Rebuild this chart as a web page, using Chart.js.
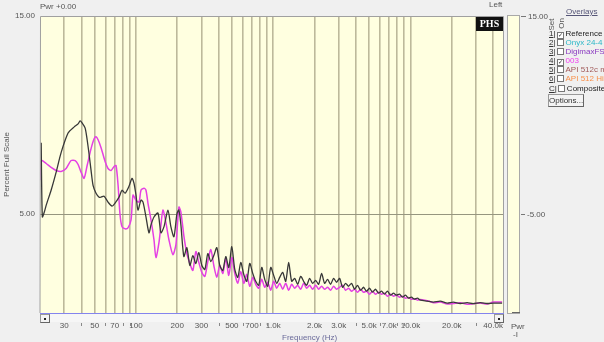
<!DOCTYPE html>
<html>
<head>
<meta charset="utf-8">
<script src="https://cdn.jsdelivr.net/npm/chart.js@4.4.1/dist/chart.umd.min.js"></script>
<style>
  body { margin: 0; background: #f0f0f0; font-family: "Liberation Sans", Arial, sans-serif; }
  #wrap { position: relative; width: 604px; height: 342px; overflow: hidden; }
  canvas { position: absolute; left: 0; top: 0; }
  .t { position: absolute; font-size: 8px; line-height: 9px; color: #555; white-space: nowrap; }
  .row { position: absolute; left: 549px; font-size: 8px; line-height: 9px; white-space: nowrap; }
  .row u { color: #333; }
  .box { display: inline-block; width: 5px; height: 5px; border: 1px solid #777; background: #fff; margin: 0 2px 0 1px; vertical-align: -1px; font-size: 6px; line-height: 5px; text-align: center; }
  .btn { position: absolute; border: 1px solid #999; border-right-color: #666; border-bottom-color: #666; background: #f4f4f4; }
</style>
</head>
<body>
<div id="wrap">
  <canvas id="chart" width="604" height="342"></canvas>

  <div class="t" style="left:40px;top:2px;">Pwr +0.00</div>
  <div class="t" style="left:489px;top:0px;">Left</div>
  <div style="position:absolute;left:476px;top:17px;width:27px;height:14px;background:#111;color:#fff;font:bold 10px 'Liberation Serif',serif;line-height:14px;text-align:center;">PHS</div>

  <!-- level meter strip on the right -->
  <div style="position:absolute;left:507px;top:15px;width:11px;height:297px;background:#ffffe0;border:1px solid #a8a8a8;"></div>
  <div style="position:absolute;left:521px;top:16px;width:5px;height:1px;background:#777;"></div>
  <div class="t" style="left:528px;top:12px;">15.00</div>
  <div style="position:absolute;left:521px;top:214px;width:4px;height:1px;background:#777;"></div>
  <div class="t" style="left:527px;top:210px;">-5.00</div>
  <div style="position:absolute;left:512px;top:312px;width:8px;height:1px;background:#666;"></div>
  <div class="t" style="left:511px;top:322px;">Pwr</div>
  <div class="t" style="left:513px;top:330px;">-I</div>

  <!-- scroll bar under the plot -->
  <div style="position:absolute;left:40px;top:314px;width:464px;height:8px;background:#f6f6f6;"></div>
  <div class="btn" style="left:40px;top:314px;width:8px;height:7px;"><div style="position:absolute;left:3px;top:3px;width:2px;height:2px;background:#222;"></div></div>
  <div class="btn" style="left:494px;top:314px;width:8px;height:7px;"><div style="position:absolute;left:3px;top:3px;width:2px;height:2px;background:#222;"></div></div>

  <div class="t" style="left:282px;top:333px;color:#6a6a9a;">Frequency (Hz)</div>

  <!-- overlays panel -->
  <div class="t" style="left:566px;top:7px;color:#557;text-decoration:underline;">Overlays</div>
  <div class="t" style="left:545px;top:20px;transform:rotate(-90deg);">Set</div>
  <div class="t" style="left:556px;top:19px;transform:rotate(-90deg);">On</div>
  <div class="row" style="top:29px;color:#222;"><u>1</u>|<span class="box">&#10003;</span>Reference</div>
  <div class="row" style="top:38px;color:#2cb8c8;"><u>2</u><span style="color:#333">|</span><span class="box"></span>Onyx 24-4</div>
  <div class="row" style="top:47px;color:#8a3ac0;"><u>3</u><span style="color:#333">|</span><span class="box"></span>DigimaxFS</div>
  <div class="row" style="top:56px;color:#f03cf0;"><u>4</u><span style="color:#333">|</span><span class="box" style="color:#222">&#10003;</span>003</div>
  <div class="row" style="top:65px;color:#a05a5a;"><u>5</u><span style="color:#333">|</span><span class="box"></span>API 512c m</div>
  <div class="row" style="top:74px;color:#f8904c;"><u>6</u><span style="color:#333">|</span><span class="box"></span>API 512 Hi</div>
  <div class="row" style="top:84px;color:#222;"><u>C</u>|<span class="box"></span>Composite</div>
  <div class="btn" style="left:548px;top:94px;width:34px;height:11px;font-size:8px;line-height:11px;color:#333;text-align:center;">Options...</div>
</div>

<script>
// reference curve (black): frequency in Hz, percent full scale
const refFreq = [20.4, 20.8, 21.5, 22.2, 24.1, 26.2, 28.5, 32.1, 35.5, 37.9, 39.2, 40.5, 42.6, 44.1, 45.6, 47.1, 48.7, 51.2, 53.9, 55.7,
  58.6, 62.6, 67.0, 70.4, 75.3, 79.2, 83.3, 89.0, 93.6, 96.8, 100.1, 103.5, 108.8, 112.6, 118.3, 124.4, 128.7, 135.3, 144.7, 152.1,
  159.9, 171.0, 179.8, 189.1, 198.8, 205.5,
  212.5, 223.4, 234.9, 247.0, 259.8, 273.2, 287.2, 302.0, 317.6, 333.9, 351.1, 369.2, 388.2, 408.2, 429.3, 451.4, 474.6, 499.1, 524.8, 551.8,
  580.3, 610.2, 641.6, 674.6, 709.4, 745.9, 784.3, 824.7, 867.2, 911.9, 958.8, 1008, 1060, 1115, 1172, 1233, 1296, 1363, 1433, 1507,
  1585, 1666, 1752, 1842, 1937, 2037, 2142, 2252, 2368, 2490, 2618, 2753, 2895, 3044, 3201, 3366, 3539, 3721, 3913, 4114,
  4326, 4549, 4783, 5030, 5289, 5561, 5848, 6149, 6466, 6799, 7149, 7517, 7904, 8311, 8739, 9189, 9663, 10160, 10680, 11240, 11810,
  13260, 14660, 16480, 18530, 20490, 23030, 25890, 28630, 32190, 36190, 40020, 46510];
const refPct = [8.6, 4.85, 5.1, 5.45, 6.2, 7.1, 8.1, 9.1, 9.4, 9.55, 9.7, 9.6, 9.35, 8.75, 8.0, 7.2, 6.45, 6.05, 5.85, 5.85,
  5.9, 5.6, 5.4, 5.55, 5.85, 6.2, 6.05, 6.4, 6.8, 6.55, 5.95, 5.2, 5.7, 5.6, 4.85, 4.05, 4.45, 4.85, 5.05, 4.05,
  4.35, 5.2, 4.35, 3.85, 5.0, 5.2,
  4.45, 2.85, 3.3, 2.4, 2.9, 2.5, 3.05, 2.4, 2.2, 3.0, 2.6, 2.9, 3.3, 2.4, 2.15, 2.85, 2.3, 3.35, 2.2, 1.8,
  2.55, 1.95, 1.6, 2.5, 2.0, 1.6, 1.4, 2.3, 1.7, 1.35, 2.3, 1.9, 1.5, 1.8, 2.05, 1.6, 2.55, 1.6, 1.75, 1.45,
  1.85, 1.6, 1.4, 1.75, 1.5, 1.65, 1.45, 2.0, 1.5, 1.7, 1.45, 1.75, 1.55, 1.75, 1.3, 1.5, 1.35, 1.5, 1.2, 1.4,
  1.15, 1.3, 1.1, 1.25, 1.05, 1.2, 1.0, 1.1, 0.95, 1.1, 0.9, 1.0, 0.9, 0.95, 0.8, 0.9, 0.75, 0.8, 0.7, 0.75, 0.65,
  0.6, 0.55, 0.6, 0.5, 0.55, 0.48, 0.52, 0.47, 0.52, 0.48, 0.5, 0.5];

// overlay 4 "003" (magenta)
const s003Freq = [20.4, 20.5, 22.2, 24.1, 26.2, 28.5, 31.0, 33.7, 36.1, 37.9, 39.9, 41.9, 44.1, 47.1, 49.6, 51.2, 53.0, 55.7, 59.6, 62.6,
  65.9, 69.3, 71.6, 74.1, 76.6, 79.2, 83.3, 87.5, 92.1, 95.2, 100.1, 105.3, 108.8, 114.5, 118.3, 122.3, 128.7, 135.3, 139.9, 147.1,
  152.1, 157.3, 165.4, 173.9, 185.9, 195.5, 205.5,
  212.5, 223.4, 234.9, 247.0, 259.8, 273.2, 287.2, 302.0, 317.6, 333.9, 351.1, 369.2, 388.2, 408.2, 429.3, 451.4, 474.6, 499.1, 524.8, 551.8,
  580.3, 610.2, 641.6, 674.6, 709.4, 745.9, 784.3, 824.7, 867.2, 911.9, 958.8, 1008, 1060, 1115, 1172, 1233, 1296, 1363, 1433, 1507,
  1585, 1666, 1752, 1842, 1937, 2037, 2142, 2252, 2368, 2490, 2618, 2753, 2895, 3044, 3201, 3366, 3539, 3721, 3913, 4114,
  4326, 4549, 4783, 5030, 5289, 5561, 5848, 6149, 6466, 6799, 7149, 7517, 7904, 8311, 8739, 9189, 9663, 10160, 10680, 11240, 11810,
  13260, 14660, 16480, 18530, 20490, 23030, 25890, 28630, 32190, 36190, 40020, 46510];
const s003Pct = [6.7, 7.7, 7.55, 7.35, 7.2, 7.15, 7.3, 7.7, 7.7, 7.5, 7.1, 6.8, 7.45, 8.3, 8.8, 8.9, 8.75, 8.35, 7.65, 7.3,
  7.2, 7.4, 7.45, 6.45, 4.95, 4.35, 4.25, 4.3, 4.7, 5.95, 5.7, 5.6, 6.2, 6.3, 6.2, 5.55, 4.7, 3.7, 2.8, 3.55,
  4.45, 5.2, 4.55, 3.7, 2.95, 3.45, 5.35,
  5.1, 3.9, 3.0, 2.5, 2.15, 3.1, 2.55, 2.05, 1.85, 2.6, 3.2, 2.4, 1.8, 2.4, 2.0, 2.75, 1.9, 2.8, 2.0, 1.5,
  2.1, 1.5, 1.95, 1.35, 1.8, 1.45, 1.25, 1.7, 1.3, 1.55, 1.15, 1.6, 1.25, 1.5, 1.2, 1.5, 1.15, 1.45, 1.25, 1.4,
  1.2, 1.5, 1.25, 1.4, 1.2, 1.4, 1.2, 1.35, 1.2, 1.3, 1.15, 1.35, 1.2, 1.3, 1.4, 1.15, 1.25, 1.1, 1.2, 1.05,
  1.2, 1.05, 1.1, 0.95, 1.1, 0.95, 1.05, 0.95, 1.0, 0.85, 0.95, 0.85, 0.9, 0.8, 0.85, 0.75, 0.78, 0.7, 0.72, 0.65, 0.68,
  0.62, 0.52, 0.55, 0.45, 0.48, 0.52, 0.44, 0.47, 0.5, 0.45, 0.55, 0.55];

// frequency grid lines and the ones that carry a label
const gridFreqs = [30, 40, 50, 60, 70, 80, 90, 100, 200, 300, 400, 500, 600, 700, 800, 900, 1000,
  2000, 3000, 4000, 5000, 6000, 7000, 8000, 9000, 10000, 20000, 30000, 40000];
const freqLabels = { 30: '30', 50: '50', 70: '70', 100: '100', 200: '200', 300: '300', 500: '500', 700: '700',
  1000: '1.0k', 2000: '2.0k', 3000: '3.0k', 5000: '5.0k', 7000: '7.0k', 10000: '10.0k', 20000: '20.0k', 40000: '40.0k' };
const pctTicks = [5, 15];

function toPoints(xs, ys) {
  return xs.map((f, i) => ({ x: f, y: ys[i] }));
}

const plotFrame = {
  id: 'plotFrame',
  beforeDraw(chart) {
    const { ctx, chartArea: a } = chart;
    ctx.save();
    ctx.fillStyle = '#ffffe0';
    ctx.fillRect(a.left, a.top, a.right - a.left, a.bottom - a.top);
    ctx.restore();
  },
  afterDraw(chart) {
    const { ctx, chartArea: a } = chart;
    const xs = chart.scales.x;
    ctx.save();
    ctx.strokeStyle = '#a0a0a0';
    ctx.lineWidth = 1;
    ctx.beginPath();
    ctx.moveTo(a.left, a.bottom);
    ctx.lineTo(a.left + 0.5, a.top + 0.5);
    ctx.lineTo(a.right - 0.5, a.top + 0.5);
    ctx.lineTo(a.right - 0.5, a.bottom);
    ctx.stroke();
    // blue base line
    ctx.strokeStyle = '#8484ee';
    ctx.beginPath();
    ctx.moveTo(a.left, a.bottom + 0.5);
    ctx.lineTo(a.right, a.bottom + 0.5);
    ctx.stroke();
    // little marks for unlabeled grid frequencies
    ctx.strokeStyle = '#888';
    gridFreqs.forEach(f => {
      if (freqLabels[f]) return;
      const px = Math.round(xs.getPixelForValue(f)) + 0.5;
      ctx.beginPath();
      ctx.moveTo(px, a.bottom + 10);
      ctx.lineTo(px, a.bottom + 13);
      ctx.stroke();
    });
    ctx.restore();
  }
};

new Chart(document.getElementById('chart'), {
  type: 'line',
  data: {
    datasets: [{
      label: 'Reference',
      data: toPoints(refFreq, refPct),
      borderColor: '#383838',
      borderWidth: 1.3,
      pointRadius: 0,
      tension: 0.25
    }, {
      label: '003',
      data: toPoints(s003Freq, s003Pct),
      borderColor: '#e440e4',
      borderWidth: 1.5,
      pointRadius: 0,
      tension: 0.25
    }]
  },
  options: {
    responsive: false,
    animation: false,
    layout: { padding: { top: 16, right: 100, left: 0, bottom: 0 } },
    plugins: { legend: { display: false }, tooltip: { enabled: false } },
    scales: {
      x: {
        type: 'logarithmic',
        min: 20,
        max: 48000,
        afterBuildTicks: s => { s.ticks = gridFreqs.map(v => ({ value: v })); },
        afterFit: s => { s.height = 29; },
        ticks: {
          autoSkip: false,
          maxRotation: 0,
          padding: 8,
          color: '#555',
          font: { size: 8, family: 'Liberation Sans' },
          callback: v => freqLabels[v] || ''
        },
        grid: { color: '#bdb99b', lineWidth: 1.6, drawTicks: false },
        border: { display: false }
      },
      y: {
        min: 0,
        max: 15,
        afterBuildTicks: s => { s.ticks = pctTicks.map(v => ({ value: v })); },
        afterFit: s => { s.width = 40; },
        ticks: {
          padding: 5,
          color: '#555',
          font: { size: 8, family: 'Liberation Sans' },
          callback: v => v.toFixed(2)
        },
        grid: {
          drawTicks: false,
          color: c => (c.tick && c.tick.value === 5 ? '#96967f' : 'rgba(0,0,0,0)')
        },
        border: { display: false },
        title: {
          display: true,
          text: 'Percent Full Scale',
          color: '#555',
          font: { size: 8, family: 'Liberation Sans' },
          padding: { top: 2, bottom: 0 }
        }
      }
    }
  },
  plugins: [plotFrame]
});
</script>
</body>
</html>
